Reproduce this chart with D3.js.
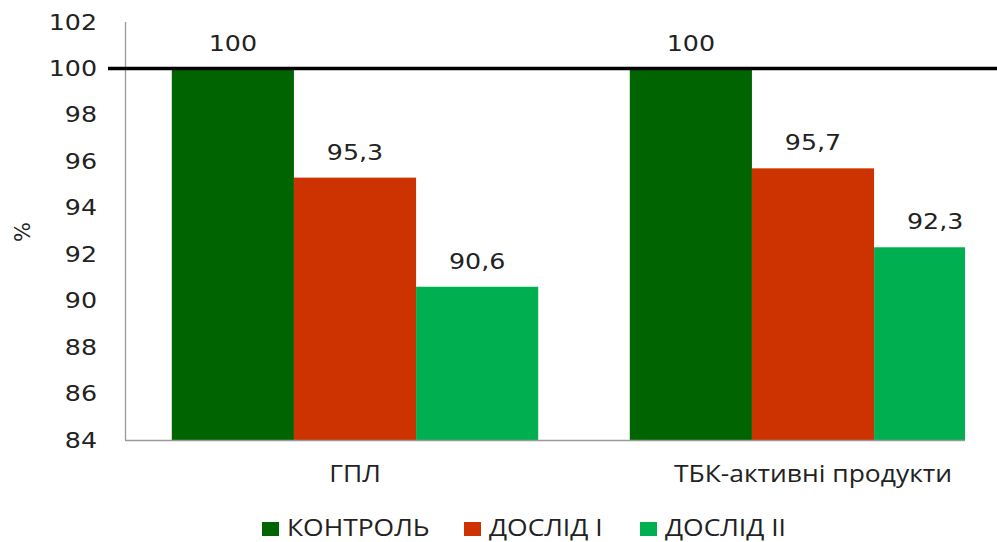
<!DOCTYPE html>
<html>
<head>
<meta charset="utf-8">
<script src="https://cdn.jsdelivr.net/npm/d3@7"></script>
<style>
  html, body { margin: 0; padding: 0; background: #fff; }
  svg { display: block; }
</style>
</head>
<body>
<svg id="chart" width="997" height="542"></svg>
<script>
// Groups on the x axis and the three treatment series
const categories = ["ГПЛ", "ТБК-активні продукти"];
const seriesNames = ["КОНТРОЛЬ", "ДОСЛІД I", "ДОСЛІД II"];
const controlValues = [100, 100];
const trial1Values = [95.3, 95.7];
const trial2Values = [90.6, 92.3];
const valueLabels = [["100", "100"], ["95,3", "95,7"], ["90,6", "92,3"]];
const yTicks = [84, 86, 88, 90, 92, 94, 96, 98, 100, 102];
const colors = ["#006400", "#CC3300", "#00B050"];

const series = [controlValues, trial1Values, trial2Values];
const rows = categories.map((c, i) => ({
  category: c,
  values: series.map((s, k) => ({ key: seriesNames[k], value: s[i], label: valueLabels[k][i], k }))
}));

// text is set slightly wide
const SX = 1.15;
const numFont = "'DejaVu Sans', Verdana, sans-serif";
const txtFont = "'Open Sans', sans-serif";

const svg = d3.select("#chart");
const plotLeft = 126, plotRight = 965, plotBottom = 440;

const y = d3.scaleLinear().domain([84, 100]).range([plotBottom, 68.5]);
const x0 = d3.scaleBand().domain(categories).range([plotLeft, 1042])
  .paddingInner(0.2).paddingOuter(0.1);
const x1 = d3.scaleBand().domain(seriesNames).range([0, x0.bandwidth()]);

// clip region for the plot area (the last bar runs off the right edge)
svg.append("defs").append("clipPath").attr("id", "plotClip")
  .append("rect").attr("x", plotLeft - 1).attr("y", 0)
  .attr("width", plotRight - plotLeft + 1).attr("height", plotBottom + 2);

// bars
const barLayer = svg.append("g").attr("clip-path", "url(#plotClip)");
barLayer.selectAll("g.grp").data(rows).join("g")
  .attr("class", "grp")
  .attr("transform", d => `translate(${x0(d.category)},0)`)
  .selectAll("rect").data(d => d.values).join("rect")
  .attr("x", d => x1(d.key))
  .attr("y", d => y(d.value))
  .attr("width", x1.bandwidth())
  .attr("height", d => y(84) - y(d.value))
  .attr("fill", d => colors[d.k]);

// y axis
const yPad = 28;
const yAxis = svg.append("g").attr("transform", `translate(${plotLeft - 1},0)`)
  .call(d3.axisLeft(y).tickValues(yTicks).tickSize(0).tickSizeOuter(0).tickPadding(yPad));
yAxis.select(".domain").attr("stroke", "#9a9a9a").attr("stroke-width", 1.3)
  .attr("d", `M0.5,${y(102)}V${plotBottom}`);
yAxis.selectAll("text")
  .attr("x", 0)
  .attr("transform", `translate(${-yPad},0) scale(${SX},1)`)
  .attr("font-family", numFont)
  .attr("font-size", 22).attr("fill", "#222");

// x axis
const xAxis = svg.append("g").attr("transform", `translate(0,${plotBottom})`)
  .call(d3.axisBottom(x0).tickSize(0).tickSizeOuter(0).tickPadding(26));
xAxis.select(".domain").attr("stroke", "#9a9a9a").attr("stroke-width", 1.3)
  .attr("d", `M${plotLeft - 1},0.5H${plotRight}`);
xAxis.selectAll("text")
  .attr("transform", `scale(${SX},1)`)
  .attr("font-family", txtFont)
  .attr("font-size", 23).attr("fill", "#222");

// reference line at 100 %
svg.append("line")
  .attr("x1", 108).attr("x2", 997)
  .attr("y1", y(100)).attr("y2", y(100))
  .attr("stroke", "#000").attr("stroke-width", 3.5);

// value labels above the bars
svg.append("g").selectAll("g").data(rows).join("g")
  .attr("transform", d => `translate(${x0(d.category)},0)`)
  .selectAll("text").data(d => d.values).join("text")
  .attr("transform", d => `translate(${x1(d.key) + x1.bandwidth() / 2},${y(d.value) - 18}) scale(${SX},1)`)
  .attr("text-anchor", "middle")
  .attr("font-family", numFont)
  .attr("font-size", 22).attr("fill", "#222")
  .text(d => d.label);

// y axis title
svg.append("text")
  .attr("transform", "translate(30,232) rotate(-90)")
  .attr("text-anchor", "middle")
  .attr("font-family", numFont)
  .attr("font-size", 21).attr("fill", "#222")
  .text("%");

// legend
const legendX = [262, 464, 640];
const legend = svg.append("g").selectAll("g").data(seriesNames).join("g")
  .attr("transform", (d, i) => `translate(${legendX[i]},522)`);
legend.append("rect").attr("width", 17).attr("height", 14)
  .attr("fill", (d, i) => colors[i]);
legend.append("text")
  .attr("transform", `translate(25,14) scale(${SX},1)`)
  .attr("font-family", txtFont)
  .attr("font-size", 23).attr("fill", "#222")
  .text(d => d);
</script>
</body>
</html>
